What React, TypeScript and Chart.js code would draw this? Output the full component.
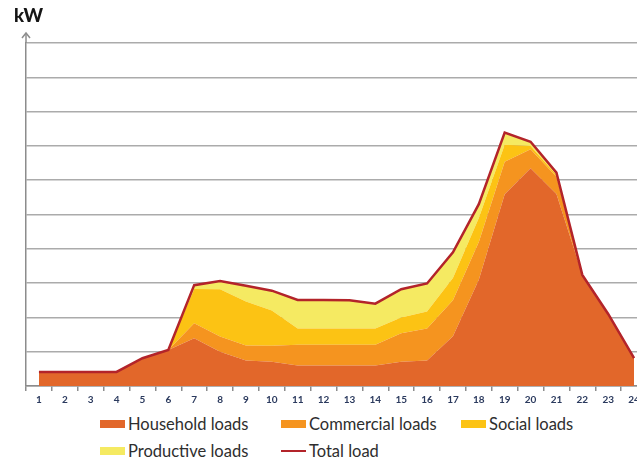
import React, { useEffect, useRef } from "react";
import { Chart, registerables } from "chart.js";

Chart.register(...registerables);

// ---- Data (kW) ----
const hours = ["1","2","3","4","5","6","7","8","9","10","11","12","13","14","15","16","17","18","19","20","21","22","23","24"];
const household = [0.41,0.41,0.41,0.41,0.81,1.05,1.39,1.0,0.74,0.71,0.6,0.6,0.6,0.6,0.71,0.74,1.45,3.1,5.59,6.35,5.6,3.24,2.1,0.81];
const commercial = [0,0,0,0,0,0,0.44,0.44,0.44,0.46,0.6,0.6,0.6,0.6,0.83,0.94,1.05,1.1,0.95,0.55,0.5,0,0,0];
const social = [0,0,0,0,0,0,1.0,1.38,1.28,1.03,0.48,0.48,0.48,0.48,0.46,0.49,0.65,0.7,0.49,0.1,0.05,0,0,0];
const productive = [0,0,0,0,0,0,0.11,0.24,0.46,0.58,0.83,0.83,0.82,0.72,0.82,0.82,0.75,0.4,0.36,0.12,0.07,0,0,0];
const totalLoad = [0.41,0.41,0.41,0.41,0.81,1.05,2.94,3.06,2.92,2.78,2.51,2.51,2.5,2.4,2.82,2.99,3.9,5.3,7.39,7.12,6.22,3.24,2.1,0.81];
const yMin = 0;
const yMax = 10;
const yStep = 1;

const seriesNames = ["Household loads", "Commercial loads", "Social loads", "Productive loads", "Total load"];
const seriesColors = ["#e2672a", "#f5941f", "#fcc314", "#f5ea62", "#b3242a"];

const axisGray = "#8c8c8c";
const gridGray = "#ababab";

const arrowPlugin = {
  id: "yArrow",
  afterDraw(chart: any) {
    const { ctx, chartArea } = chart;
    const x = chartArea.left;
    ctx.save();
    ctx.strokeStyle = axisGray;
    ctx.lineWidth = 1.5;
    ctx.beginPath();
    ctx.moveTo(x, chartArea.top);
    ctx.lineTo(x, chartArea.top - 10);
    ctx.stroke();
    ctx.beginPath();
    ctx.moveTo(x - 4, chartArea.top - 5);
    ctx.lineTo(x, chartArea.top - 10);
    ctx.lineTo(x + 4, chartArea.top - 5);
    ctx.stroke();
    ctx.restore();
  },
};

export default function App() {
  const ref = useRef<HTMLCanvasElement | null>(null);

  useEffect(() => {
    if (!ref.current) return;
    const area = (label: string, data: number[], color: string, fill: any) => ({
      label,
      data,
      backgroundColor: color,
      borderColor: color,
      borderWidth: 0,
      pointRadius: 0,
      tension: 0,
      fill,
      stack: "loads",
    });
    const chart = new Chart(ref.current, {
      type: "line",
      data: {
        labels: hours,
        datasets: [
          area(seriesNames[0], household, seriesColors[0], "origin"),
          area(seriesNames[1], commercial, seriesColors[1], "-1"),
          area(seriesNames[2], social, seriesColors[2], "-1"),
          area(seriesNames[3], productive, seriesColors[3], "-1"),
          {
            label: seriesNames[4],
            data: totalLoad,
            borderColor: seriesColors[4],
            backgroundColor: seriesColors[4],
            borderWidth: 2.5,
            pointRadius: 0,
            tension: 0,
            fill: false,
            stack: "total",
            order: -1,
          } as any,
        ],
      },
      options: {
        responsive: false,
        animation: false,
        devicePixelRatio: 1,
        layout: { padding: { top: 43, right: 13, left: 0, bottom: 0 } },
        plugins: { legend: { display: false }, tooltip: { enabled: false }, title: { display: false } },
        scales: {
          x: {
            type: "category",
            offset: true,
            grid: {
              display: true,
              drawOnChartArea: false,
              drawTicks: true,
              tickLength: 5,
              color: axisGray,
              lineWidth: 1.5,
              offset: true,
            },
            border: { display: true, color: axisGray, width: 1.5 },
            ticks: {
              color: "#2b3a5e",
              font: { family: "Lato", size: 10, weight: "bold" },
              padding: 3,
              maxRotation: 0,
              autoSkip: false,
            },
            afterFit: (s: any) => { s.height = 26; },
          },
          y: {
            stacked: true,
            min: yMin,
            max: yMax,
            ticks: { display: false, stepSize: yStep },
            grid: { color: gridGray, lineWidth: 1.5, drawTicks: false },
            border: { display: true, color: axisGray, width: 1.5 },
            afterFit: (s: any) => { s.width = 26; },
          },
        },
      },
      plugins: [arrowPlugin],
    } as any);
    return () => chart.destroy();
  }, []);

  const legendItem = (i: number, left: number, top: number) => (
    <div key={i} style={{ position: "absolute", left, top, height: 20, display: "flex", alignItems: "center" }}>
      {i === 4 ? (
        <div style={{ width: 25, height: 2.5, background: seriesColors[i], marginRight: 3 }} />
      ) : (
        <div style={{ width: 25, height: 8, background: seriesColors[i], marginRight: 3 }} />
      )}
      <span style={{ fontFamily: "Lato", fontSize: 16.5, color: "#2e2e2e", whiteSpace: "nowrap" }}>{seriesNames[i]}</span>
    </div>
  );

  return (
    <div style={{ position: "fixed", left: 0, top: 0, width: 637, height: 462, overflow: "hidden", background: "#fff" }}>
      <canvas ref={ref} width={660} height={412} style={{ position: "absolute", left: 0, top: 0 }} />
      <div style={{ position: "absolute", left: 14, top: 4, fontFamily: "Lato", fontWeight: 900, fontSize: 18.5, color: "#151515" }}>kW</div>
      {legendItem(0, 100, 414)}
      {legendItem(1, 281, 414)}
      {legendItem(2, 461, 414)}
      {legendItem(3, 100, 441)}
      {legendItem(4, 281, 441)}
    </div>
  );
}
